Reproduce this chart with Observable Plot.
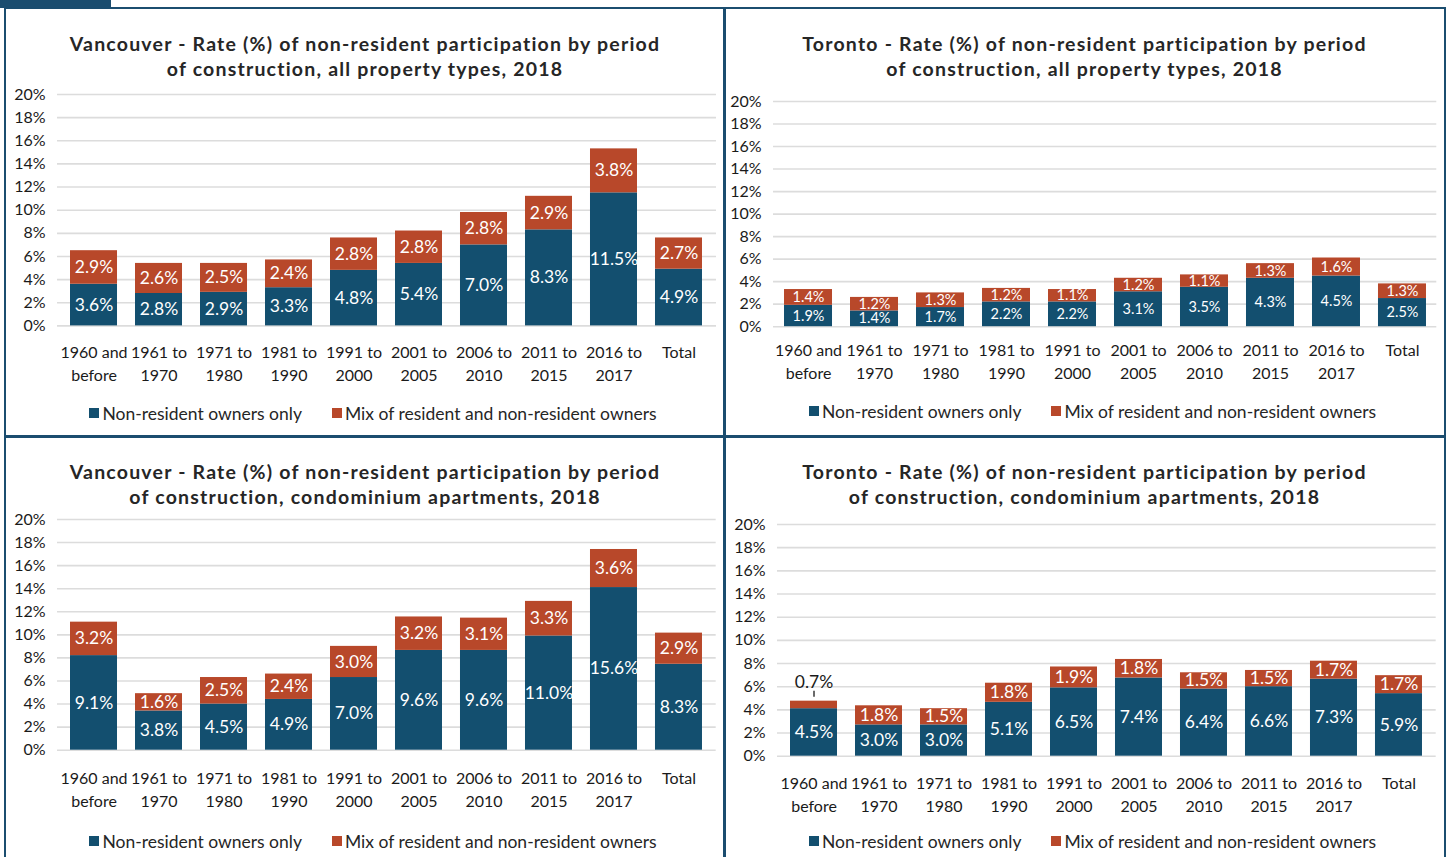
<!DOCTYPE html>
<html><head><meta charset="utf-8">
<script src="https://cdn.jsdelivr.net/npm/d3@7"></script>
<script src="https://cdn.jsdelivr.net/npm/@observablehq/plot@0.6"></script>
<style>
body{margin:0;background:#fff;font-family:Lato,"Open Sans",sans-serif;}
#page{position:relative;width:1447px;height:857px;overflow:hidden;background:#fff;}
.rule{position:absolute;background:#1b4d6f;}
.title{position:absolute;text-align:center;font-weight:bold;font-size:19.5px;letter-spacing:1.2px;line-height:25px;color:#262626;white-space:nowrap;}
.plotbox{position:absolute;}
.legendbox{position:absolute;display:flex;justify-content:center;align-items:center;height:26px;}
#page .lg-swatches{font-family:Lato,sans-serif !important;font-size:17.5px !important;color:#262626 !important;margin:0 !important;min-height:0 !important;}
#page .lg-swatch{margin-right:30px !important;}
#page .lg-swatch:last-child{margin-right:0 !important;}
#page .lg-swatch > svg{margin-right:3px !important;}
</style></head><body><div id="page"></div>
<script>
// ---------- data ----------
const categories = ["1960 and\nbefore","1961 to\n1970","1971 to\n1980","1981 to\n1990","1991 to\n2000","2001 to\n2005","2006 to\n2010","2011 to\n2015","2016 to\n2017","Total"];
const yTicks = [0,2,4,6,8,10,12,14,16,18,20];
const seriesNames = ["Non-resident owners only","Mix of resident and non-resident owners"];
const seriesColors = ["#134f6f","#b8482a"];

// Vancouver, all property types (labels = bar values)
const vanAllNonResident = [3.6,2.8,2.9,3.3,4.8,5.4,7.0,8.3,11.5,4.9];
const vanAllMix = [2.9,2.6,2.5,2.4,2.8,2.8,2.8,2.9,3.8,2.7];
// Toronto, all property types
const torAllNonResident = [1.9,1.4,1.7,2.2,2.2,3.1,3.5,4.3,4.5,2.5];
const torAllMix = [1.4,1.2,1.3,1.2,1.1,1.2,1.1,1.3,1.6,1.3];
// Vancouver, condominium apartments: printed labels and drawn bar heights
const vanCondoNonResidentLabel = [9.1,3.8,4.5,4.9,7.0,9.6,9.6,11.0,15.6,8.3];
const vanCondoMixLabel = [3.2,1.6,2.5,2.4,3.0,3.2,3.1,3.3,3.6,2.9];
const vanCondoNonResidentBar = [8.2,3.4,4.0,4.4,6.3,8.65,8.65,9.9,14.1,7.45];
const vanCondoMixBar = [2.9,1.5,2.3,2.2,2.7,2.9,2.8,3.0,3.3,2.7];
// Toronto, condominium apartments: printed labels and drawn bar heights
const torCondoNonResidentLabel = [4.5,3.0,3.0,5.1,6.5,7.4,6.4,6.6,7.3,5.9];
const torCondoMixLabel = [0.7,1.8,1.5,1.8,1.9,1.8,1.5,1.5,1.7,1.7];
const torCondoNonResidentBar = [4.1,2.7,2.7,4.65,5.9,6.75,5.8,6.0,6.65,5.4];
const torCondoMixBar = [0.65,1.65,1.4,1.65,1.8,1.6,1.4,1.4,1.55,1.55];

const panels = [
  {title:["Vancouver - Rate (%) of non-resident participation by period","of construction, all property types, 2018"],
   box:[5,7,725,435], x0:57, x1:716, y20:94.3, y0:325.7, titleY:43, xLabY:350, legendY:413, fs:17.5,
   nrBar:vanAllNonResident, mixBar:vanAllMix, nrLab:vanAllNonResident, mixLab:vanAllMix},
  {title:["Toronto - Rate (%) of non-resident participation by period","of construction, all property types, 2018"],
   box:[725,7,1444,435], x0:772.7, x1:1436, y20:100.5, y0:325.7, titleY:43, xLabY:348, legendY:411, fs:14.5,
   nrBar:torAllNonResident, mixBar:torAllMix, nrLab:torAllNonResident, mixLab:torAllMix},
  {title:["Vancouver - Rate (%) of non-resident participation by period","of construction, condominium apartments, 2018"],
   box:[5,435,725,857], x0:57.3, x1:716, y20:519.3, y0:750, titleY:471, xLabY:776, legendY:841, fs:17.5,
   nrBar:vanCondoNonResidentBar, mixBar:vanCondoMixBar, nrLab:vanCondoNonResidentLabel, mixLab:vanCondoMixLabel},
  {title:["Toronto - Rate (%) of non-resident participation by period","of construction, condominium apartments, 2018"],
   box:[725,435,1444,857], x0:777.3, x1:1436, y20:524.3, y0:756, titleY:471, xLabY:781, legendY:841, fs:17.5,
   nrBar:torCondoNonResidentBar, mixBar:torCondoMixBar, nrLab:torCondoNonResidentLabel, mixLab:torCondoMixLabel}
];

const page = document.getElementById("page");
function div(cls, css){const d=document.createElement("div");d.className=cls;Object.assign(d.style,css);page.appendChild(d);return d;}
const fmt = d3.format(".1f");

for (const p of panels) {
  const rows = [];
  categories.forEach((c,i)=>{
    rows.push({cat:c, series:seriesNames[0], bar:p.nrBar[i], label:fmt(p.nrLab[i])+"%", top:p.nrBar[i], outside:false});
    rows.push({cat:c, series:seriesNames[1], bar:p.mixBar[i], label:fmt(p.mixLab[i])+"%", top:p.nrBar[i]+p.mixBar[i], outside:p.mixLab[i] < 1});
  });
  const inside = rows.filter(d=>!d.outside);
  const outside = rows.filter(d=>d.outside);
  const ml=55, mr=8, mt=15, mb=62;
  const W = (p.x1-p.x0)+ml+mr, H = mt+(p.y0-p.y20)+mb;
  const chart = Plot.plot({
    width: W, height: H, marginLeft: ml, marginRight: mr, marginTop: mt, marginBottom: mb,
    style:{fontSize:"16px", fontFamily:"Lato, sans-serif", color:"#1a1a1a", background:"transparent", overflow:"visible"},
    x:{domain:categories, paddingInner:0.27, paddingOuter:0.135, axis:null},
    y:{domain:[0,20], ticks:yTicks, tickFormat:d=>d+"%", tickSize:0, tickPadding:12, label:null},
    color:{domain:seriesNames, range:seriesColors},
    marks:[
      Plot.ruleY(yTicks, {stroke:"#dcdcdc", strokeWidth:1.6}),
      Plot.barY(rows, {x:"cat", y:"bar", fill:"series"}),
      Plot.text(inside, Plot.stackY({x:"cat", y:"bar", z:"series", text:"label", fill:"white", fontSize:p.fs})),
      Plot.text(outside, {x:"cat", y:"top", text:"label", dy:-19, fill:"#1a1a1a", fontSize:p.fs}),
      Plot.ruleX(outside, {x:"cat", y1:"top", y2:d=>d.top+0.5, dy:-4, stroke:"#1a1a1a", strokeWidth:1.3}),
      Plot.text(categories, {x:d=>d, text:d=>d, frameAnchor:"bottom", lineAnchor:"top", dy:p.xLabY-p.y0-9, fontSize:16, lineHeight:1.44, fill:"#1a1a1a"})
    ]
  });
  const pb = div("plotbox", {left:(p.x0-ml)+"px", top:(p.y20-mt)+"px"});
  pb.appendChild(chart);
  const [bx0,by0,bx1,by1] = p.box;
  const t = div("title", {left:bx0+"px", width:(bx1-bx0)+"px", top:(p.titleY-12.5)+"px"});
  t.innerHTML = p.title[0]+"<br>"+p.title[1];
  const lg = div("legendbox", {left:(bx0+8)+"px", width:(bx1-bx0)+"px", top:(p.legendY-13)+"px"});
  lg.appendChild(Plot.legend({color:{domain:seriesNames, range:seriesColors}, legend:"swatches", swatchSize:10, className:"lg"}));
}

// frame lines
div("rule",{left:"0px",top:"0px",width:"111px",height:"8px"});
div("rule",{left:"4px",top:"7px",width:"1442px",height:"2px"});
div("rule",{left:"4px",top:"7px",width:"2px",height:"850px"});
div("rule",{left:"723px",top:"7px",width:"2.5px",height:"850px"});
div("rule",{left:"1443.5px",top:"7px",width:"2.5px",height:"850px"});
div("rule",{left:"4px",top:"434.5px",width:"1442px",height:"3px"});
</script></body></html>
